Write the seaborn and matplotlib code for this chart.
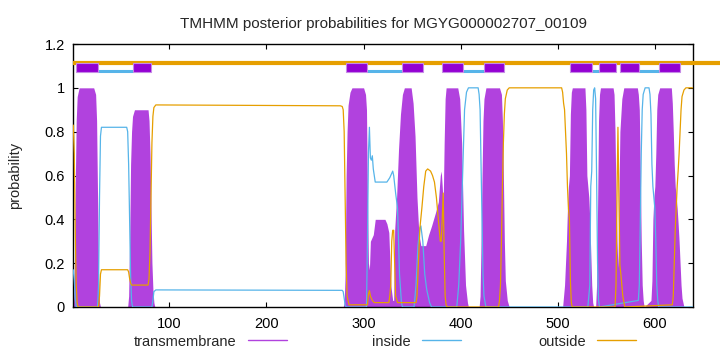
import matplotlib
matplotlib.use("Agg")
import matplotlib.pyplot as plt
import seaborn as sns
import pandas as pd
from matplotlib.lines import Line2D

# ---------------- data ----------------
title = "TMHMM posterior probabilities for MGYG000002707_00109"
seq_len = 639

tm_pos = [1, 2, 3, 4, 5, 7, 22, 24, 25, 26, 27, 28, 29,
          57, 58, 59, 60, 61, 62, 64, 78, 79, 80, 81, 82, 83, 84, 85,
          279, 280, 281, 282, 283, 284, 286, 288, 300, 302, 303, 304, 305, 306, 307, 310, 312, 322, 324, 326, 328, 330, 331,
          332, 334, 336, 338, 340, 342, 349, 351, 353, 355, 357, 359, 364, 367, 370, 374, 377, 379, 380, 381, 382, 383, 384,
          385, 397, 399, 401, 403, 405, 407, 408,
          419, 420, 421, 422, 423, 424, 426, 440, 442, 443, 444, 445, 446, 448, 450,
          505, 507, 508, 509, 510, 511, 512, 513, 514, 515, 528, 529, 530, 532, 533, 534, 535, 536, 537,
          539, 540, 541, 542, 543, 544, 557, 558, 559, 560, 561, 562, 563, 564, 566, 568, 582, 583, 584, 585, 586, 587, 588, 589,
          596, 597, 598, 599, 600, 601, 602, 603, 605, 617, 618, 619, 620, 621, 622, 623, 624, 625, 626, 627, 628, 630, 639]
tm_val = [0.0, 0.1, 0.55, 0.85, 0.96, 1.0, 1.0, 0.97, 0.85, 0.5, 0.15, 0.02, 0.0,
          0.0, 0.05, 0.3, 0.65, 0.8, 0.87, 0.9, 0.9, 0.85, 0.7, 0.45, 0.2, 0.08, 0.02, 0.0,
          0.0, 0.02, 0.15, 0.6, 0.8, 0.92, 0.98, 1.0, 1.0, 0.97, 0.9, 0.5, 0.2, 0.17, 0.3, 0.33, 0.4, 0.4, 0.38, 0.34, 0.1, 0.03, 0.03,
          0.35, 0.5, 0.72, 0.88, 0.97, 1.0, 1.0, 0.93, 0.78, 0.5, 0.33, 0.28, 0.28, 0.33, 0.37, 0.43, 0.48, 0.6, 0.62, 0.55, 0.47, 0.75, 0.95,
          1.0, 1.0, 0.95, 0.75, 0.35, 0.1, 0.02, 0.0,
          0.0, 0.05, 0.3, 0.6, 0.85, 0.95, 1.0, 1.0, 0.97, 0.85, 0.6, 0.3, 0.12, 0.03, 0.0,
          0.0, 0.1, 0.2, 0.3, 0.45, 0.55, 0.6, 0.88, 0.98, 1.0, 1.0, 0.9, 0.6, 0.5, 0.4, 0.25, 0.1, 0.02, 0.0,
          0.0, 0.1, 0.45, 0.85, 0.97, 1.0, 1.0, 0.97, 0.8, 0.5, 0.3, 0.18, 0.5, 0.8, 0.95, 1.0, 1.0, 0.97, 0.9, 0.62, 0.3, 0.1, 0.03, 0.0,
          0.03, 0.12, 0.4, 0.5, 0.55, 0.7, 0.9, 0.97, 1.0, 1.0, 0.93, 0.8, 0.65, 0.55, 0.5, 0.45, 0.38, 0.3, 0.2, 0.1, 0.04, 0.0, 0.0]

in_pos = [1, 2, 3, 4, 26, 27, 28, 29, 30, 56, 57, 58, 59, 60, 61, 62, 82, 83, 84, 86, 278, 279, 280, 281, 282,
          303, 304, 305, 306, 307, 308, 309, 310, 312, 324, 327, 330, 331, 333, 335, 337, 339, 340,
          352, 354, 356, 358, 359, 361, 363, 365, 368, 370,
          396, 398, 400, 402, 404, 406, 408, 418, 419, 420, 421, 422, 423, 424, 426,
          531, 533, 534, 535, 536, 537, 538, 539, 540, 541, 542, 543,
          583, 584, 585, 586, 587, 588, 590, 594, 595, 596, 597, 598, 599, 600, 601, 602, 603, 604, 639]
in_val = [0.17, 0.12, 0.04, 0.0, 0.0, 0.1, 0.5, 0.78, 0.82, 0.82, 0.8, 0.65, 0.4, 0.15, 0.03, 0.0, 0.0, 0.03, 0.07, 0.078,
          0.076, 0.07, 0.04, 0.01, 0.0,
          0.0, 0.3, 0.7, 0.82, 0.68, 0.67, 0.69, 0.63, 0.57, 0.57, 0.59, 0.62, 0.6, 0.52, 0.45, 0.15, 0.02, 0.0,
          0.0, 0.1, 0.28, 0.36, 0.37, 0.3, 0.15, 0.08, 0.02, 0.0,
          0.0, 0.1, 0.3, 0.6, 0.9, 0.98, 1.0, 1.0, 0.97, 0.9, 0.65, 0.4, 0.15, 0.05, 0.0,
          0.0, 0.1, 0.55, 0.62, 0.9, 0.99, 1.0, 0.95, 0.6, 0.2, 0.03, 0.0,
          0.03, 0.1, 0.38, 0.7, 0.9, 0.97, 1.0, 1.0, 0.97, 0.88, 0.65, 0.55, 0.5, 0.45, 0.3, 0.1, 0.03, 0.0, 0.0]

out_pos = [1, 2, 3, 4, 5, 6, 27, 28, 29, 30, 57, 58, 59, 60, 61, 78, 79, 80, 81, 82, 83, 84, 86, 276, 278, 279, 280, 281, 282, 283, 285,
           304, 305, 306, 307, 309, 311, 326, 327, 328, 329, 330, 331, 332, 333, 335,
           354, 355, 356, 358, 360, 362, 364, 366, 369, 371, 373, 375, 377, 379, 380, 381, 382, 383, 384, 385, 386,
           439, 440, 441, 442, 443, 444, 445, 446, 448, 450, 504, 505, 506, 507, 508, 509, 510, 511, 512, 513, 514, 515,
           559, 560, 561, 562, 563, 564, 565, 567, 569,
           618, 619, 620, 621, 622, 623, 624, 625, 626, 627, 628, 630, 632, 639]
out_val = [0.83, 0.7, 0.35, 0.1, 0.02, 0.0, 0.0, 0.05, 0.15, 0.17, 0.17, 0.16, 0.13, 0.11, 0.10, 0.10, 0.13, 0.25, 0.5, 0.75, 0.87, 0.91, 0.922,
           0.918, 0.915, 0.9, 0.8, 0.5, 0.2, 0.05, 0.01,
           0.01, 0.06, 0.075, 0.05, 0.03, 0.02, 0.02, 0.05, 0.1, 0.3, 0.35, 0.35, 0.2, 0.05, 0.02,
           0.02, 0.05, 0.15, 0.36, 0.45, 0.55, 0.62, 0.63, 0.62, 0.6, 0.57, 0.5, 0.4, 0.3, 0.3, 0.4, 0.52, 0.25, 0.05, 0.01, 0.0,
           0.0, 0.03, 0.1, 0.3, 0.55, 0.75, 0.88, 0.95, 0.99, 1.0, 1.0, 0.98, 0.93, 0.9, 0.8, 0.7, 0.55, 0.45, 0.4, 0.12, 0.02, 0.0,
           0.0, 0.1, 0.5, 0.82, 0.5, 0.19, 0.15, 0.05, 0.0,
           0.01, 0.05, 0.2, 0.35, 0.45, 0.55, 0.62, 0.7, 0.8, 0.9, 0.96, 0.99, 1.0, 1.0]

# predicted topology (top bar)
tm_seg_start = [4, 63, 282, 340, 381, 424, 513, 542, 564, 604]
tm_seg_end = [26, 81, 304, 361, 402, 445, 535, 560, 584, 626]
in_seg_start = [26, 304, 402, 535, 584]
in_seg_end = [63, 340, 424, 542, 604]
out_seg_start = [1]
out_seg_end = [680]

yticks = [0, 0.2, 0.4, 0.6, 0.8, 1.0, 1.2]
ytick_labels = ["0", "0.2", "0.4", "0.6", "0.8", "1", "1.2"]
xticks = [100, 200, 300, 400, 500, 600]

# ---------------- style ----------------
sns.set_style("ticks")
plt.rcParams["font.family"] = ["Liberation Sans", "DejaVu Sans"]
plt.rcParams["font.size"] = 10.5

C_TM = "#b142de"
C_TM_DARK = "#9400d3"
C_IN = "#56b4e9"
C_OUT = "#e69f00"

fig = plt.figure(figsize=(7.2, 3.52), dpi=100)
ax = fig.add_axes([73.3 / 720, 1 - 307 / 352, (692.7 - 73.3) / 720, (307 - 44) / 352])

df_tm = pd.DataFrame({"pos": tm_pos, "p": tm_val})
df_in = pd.DataFrame({"pos": in_pos, "p": in_val})
df_out = pd.DataFrame({"pos": out_pos, "p": out_val})

ax.fill_between(df_tm["pos"], 0, df_tm["p"], color=C_TM, linewidth=0, zorder=2)
sns.lineplot(data=df_in, x="pos", y="p", ax=ax, color=C_IN, linewidth=0.9, zorder=3, estimator=None)
sns.lineplot(data=df_out, x="pos", y="p", ax=ax, color=C_OUT, linewidth=0.9, zorder=3, estimator=None)

# top bar
ax.hlines([1.113] * len(out_seg_start), out_seg_start, out_seg_end, color=C_OUT, linewidth=3, clip_on=False, zorder=4)
ax.hlines([1.076] * len(in_seg_start), in_seg_start, in_seg_end, color=C_IN, linewidth=2.2, zorder=4)
ax.bar(tm_seg_start, 0.045, width=[e - s for s, e in zip(tm_seg_start, tm_seg_end)], bottom=1.07,
       align="edge", color=C_TM_DARK, edgecolor="#c58ae6", linewidth=0.8, zorder=5)

ax.set_xlim(1, seq_len)
ax.set_ylim(0, 1.2)
ax.set_xticks(xticks)
ax.set_xticklabels([str(t) for t in xticks])
ax.set_yticks(yticks)
ax.set_yticklabels(ytick_labels)
ax.tick_params(direction="in", length=3.5, width=0.8, top=True, right=True, labelsize=10.5, colors="black")
ax.tick_params(axis="x", pad=7)
ax.tick_params(axis="y", pad=6)
for s in ax.spines.values():
    s.set_visible(True)
    s.set_linewidth(1.0)
    s.set_color("black")
ax.set_xlabel("")
ax.set_ylabel("probability", fontsize=10.5, labelpad=16)
ax.set_title(title, fontsize=11, pad=11.5)

# legend (gnuplot style: text then sample line)
items = [("transmembrane", C_TM, 287), ("inside", C_IN, 461), ("outside", C_OUT, 636)]
for lab, col, xr in items:
    fig.legend(handles=[Line2D([], [], color=col, linewidth=1)], labels=[lab], loc="center right",
               bbox_to_anchor=(xr / 720, 1 - 341.5 / 352), frameon=False, markerfirst=False,
               borderpad=0, borderaxespad=0, handlelength=2.7, handletextpad=0.75, fontsize=10.5)

fig.savefig("out.png", dpi=100)
